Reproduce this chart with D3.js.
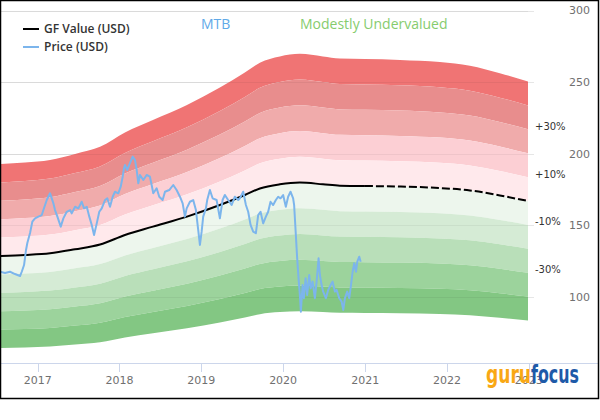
<!DOCTYPE html>
<html>
<head>
<meta charset="utf-8">
<script src="https://cdn.jsdelivr.net/npm/d3@7/dist/d3.min.js"></script>
<style>
  html, body { margin: 0; padding: 0; background: #fff; }
  svg { display: block; }
</style>
</head>
<body>
<svg id="chart" width="600" height="420"></svg>
<script>
// ---------------- DATA ----------------
const ticker = "MTB";
const verdict = "Modestly Undervalued";
const legendLabels = ["GF Value (USD)", "Price (USD)"];

// GF Value (decimal years, USD)
const gfDates  = [2016.553, 2016.846, 2017.151, 2017.457, 2017.762, 2018.067, 2018.409, 2018.825,
                  2019.227, 2019.532, 2019.716, 2019.960, 2020.204, 2020.485, 2020.692, 2020.997,
                  2021.424, 2021.913, 2022.280, 2022.646, 2022.990];
const gfValues = [128.5, 129.2, 130.4, 133.2, 136.5, 143.2, 149.0, 156.0,
                  164.1, 171.1, 175.7, 178.6, 179.8, 178.6, 177.6, 177.4,
                  177.0, 176.0, 174.3, 170.8, 166.9];
const gfEstimateFrom = 2020.997; // dashed (estimated) part starts here

// Price (decimal years, USD)
const priceDates = [
  2016.541, 2016.602, 2016.663, 2016.724, 2016.785, 2016.806, 2016.834, 2016.858, 2016.874, 2016.907,
  2016.935, 2016.968, 2017.009, 2017.050, 2017.078, 2017.111, 2017.151, 2017.172, 2017.192, 2017.212,
  2017.241, 2017.282, 2017.314, 2017.355, 2017.396, 2017.416, 2017.457, 2017.497, 2017.538, 2017.567,
  2017.600, 2017.631, 2017.661, 2017.689, 2017.722, 2017.753, 2017.783, 2017.823, 2017.851, 2017.884,
  2017.917, 2017.945, 2017.985, 2018.015, 2018.039, 2018.055, 2018.067, 2018.095, 2018.128, 2018.161,
  2018.189, 2018.210, 2018.230, 2018.250, 2018.291, 2018.332, 2018.372, 2018.393, 2018.413, 2018.454,
  2018.486, 2018.527, 2018.556, 2018.608, 2018.657, 2018.698, 2018.739, 2018.772, 2018.800, 2018.821,
  2018.861, 2018.901, 2018.934, 2018.962, 2018.983, 2019.004, 2019.023, 2019.056, 2019.072, 2019.105,
  2019.138, 2019.187, 2019.227, 2019.260, 2019.288, 2019.328, 2019.370, 2019.410, 2019.451, 2019.471,
  2019.492, 2019.512, 2019.545, 2019.573, 2019.602, 2019.634, 2019.667, 2019.695, 2019.724, 2019.756,
  2019.789, 2019.817, 2019.846, 2019.878, 2019.911, 2019.939, 2019.968, 2020.000, 2020.033, 2020.061,
  2020.090, 2020.122, 2020.134, 2020.155, 2020.171, 2020.188, 2020.204, 2020.216, 2020.237, 2020.253,
  2020.274, 2020.293, 2020.318, 2020.335, 2020.359, 2020.387, 2020.408, 2020.432, 2020.448, 2020.469,
  2020.488, 2020.521, 2020.549, 2020.579, 2020.603, 2020.631, 2020.652, 2020.684, 2020.713, 2020.733,
  2020.753, 2020.781, 2020.806, 2020.827, 2020.847, 2020.867, 2020.888, 2020.904, 2020.928, 2020.945
];
const priceValues = [
  117.5, 116.6, 117.5, 115.9, 114.5, 117.5, 122.2, 132.7, 137.6, 144.6,
  152.5, 154.8, 156.0, 157.1, 162.0, 167.6, 172.3, 168.8, 165.3, 160.6,
  156.0, 149.0, 154.8, 159.4, 160.6, 158.3, 162.9, 161.8, 166.4, 161.8,
  162.9, 156.0, 150.2, 143.2, 151.3, 159.4, 161.8, 167.6, 168.8, 162.9,
  169.9, 173.4, 172.3, 176.9, 183.9, 189.8, 192.1, 188.6, 193.3, 197.9,
  195.6, 188.6, 179.3, 185.1, 181.6, 185.1, 183.9, 178.1, 172.3, 175.8,
  169.9, 167.6, 173.4, 174.6, 178.1, 174.6, 169.9, 165.3, 156.0, 161.8,
  166.4, 167.6, 160.6, 146.7, 136.2, 145.5, 156.0, 161.8, 167.6, 174.6,
  168.8, 167.6, 154.8, 167.6, 171.1, 167.6, 164.1, 169.9, 167.6, 168.8,
  171.1, 173.4, 164.1, 159.4, 150.2, 145.5, 144.4, 157.1, 159.4, 151.3,
  156.0, 159.4, 166.4, 164.1, 167.6, 169.9, 168.8, 171.1, 162.9, 169.9,
  173.4, 168.8, 164.1, 143.2, 126.9, 112.9, 101.3, 89.6, 108.2, 99.0,
  112.9, 101.3, 115.2, 105.9, 110.6, 99.0, 110.6, 126.9, 115.2, 108.2,
  103.6, 99.0, 104.8, 108.2, 110.6, 103.6, 104.8, 99.0, 96.6, 90.8,
  99.0, 103.6, 99.0, 108.2, 117.5, 123.4, 117.5, 124.5, 128.0, 124.5
];

// valuation bands (multiples of GF Value) and their colours, top to bottom
const bandEdges  = [1.5, 1.4, 1.3, 1.2, 1.1, 1.0, 0.9, 0.8, 0.7, 0.6, 0.5];
const bandColors = ["#f07474", "#e88d8d", "#f0abab", "#fccfd4", "#ffe9ec",
                    "#edf6ed", "#d5ebd5", "#b9dfb9", "#9cd39c", "#83c783"];
const bandLabelMultipliers = [1.3, 1.1, 0.9, 0.7];
const bandLabelTexts = ["+30%", "+10%", "-10%", "-30%"];

const yTicks = [100, 150, 200, 250, 300];
const xTickYears = [2017, 2018, 2019, 2020, 2021, 2022, 2023];

// ---------------- HELPERS ----------------
function yd(y) {
  const yr = Math.floor(y);
  const s = Date.UTC(yr, 0, 1), e = Date.UTC(yr + 1, 0, 1);
  return new Date(s + (y - yr) * (e - s));
}

const gf = gfDates.map((d, i) => ({ date: yd(d), dec: d, v: gfValues[i] }));
const price = priceDates.map((d, i) => ({ date: yd(d), v: priceValues[i] }));

// ---------------- SCALES ----------------
const svg = d3.select("#chart");
const plotLeft = 1, plotRight = 528, plotBottom = 363;

const x = d3.scaleTime()
  .domain([yd(2016.553), yd(2022.990)])
  .range([plotLeft, plotRight]);

const y = d3.scaleLinear()
  .domain([100, 300])
  .range([296.8, 10.5]);

// ---------------- GRID ----------------
const grid = svg.append("g");
grid.selectAll("line").data(yTicks).join("line")
  .attr("x1", 0).attr("x2", 534)
  .attr("y1", d => Math.round(y(d)) + 0.5).attr("y2", d => Math.round(y(d)) + 0.5)
  .attr("stroke", "#e6e6e6").attr("stroke-width", 1);

// ---------------- BANDS ----------------
const bands = svg.append("g");
for (let i = 0; i < bandColors.length; i++) {
  const hi = bandEdges[i], lo = bandEdges[i + 1];
  const area = d3.area()
    .x(d => x(d.date))
    .y0(d => y(d.v * lo))
    .y1(d => y(d.v * hi))
    .curve(d3.curveMonotoneX);
  bands.append("path").datum(gf)
    .attr("d", area)
    .attr("fill", bandColors[i]);
}

// faint gridlines showing through the bands
svg.append("g").selectAll("line").data(yTicks).join("line")
  .attr("x1", 0).attr("x2", plotRight)
  .attr("y1", d => Math.round(y(d)) + 0.5).attr("y2", d => Math.round(y(d)) + 0.5)
  .attr("stroke", "#000").attr("stroke-opacity", 0.05);

// band labels
svg.append("g").selectAll("text").data(bandLabelMultipliers).join("text")
  .attr("x", 535)
  .attr("y", d => y(gfValues[gfValues.length - 1] * d) - 3)
  .attr("dy", "0.35em")
  .attr("font-family", "DejaVu Sans, sans-serif")
  .attr("font-size", 10)
  .attr("fill", "#333")
  .text((d, i) => bandLabelTexts[i]);

// ---------------- GF VALUE LINE ----------------
const gfLine = d3.line().x(d => x(d.date)).y(d => y(d.v)).curve(d3.curveMonotoneX);
svg.append("path").datum(gf.filter(d => d.dec <= gfEstimateFrom))
  .attr("d", gfLine).attr("fill", "none").attr("stroke", "#000").attr("stroke-width", 2);
svg.append("path").datum(gf.filter(d => d.dec >= gfEstimateFrom))
  .attr("d", gfLine).attr("fill", "none").attr("stroke", "#000").attr("stroke-width", 2)
  .attr("stroke-dasharray", "8,3");

// ---------------- PRICE LINE ----------------
const priceLine = d3.line().x(d => x(d.date)).y(d => y(d.v)).curve(d3.curveLinear);
svg.append("path").datum(price)
  .attr("d", priceLine).attr("fill", "none")
  .attr("stroke", "#7cb5ec").attr("stroke-width", 2).attr("stroke-linejoin", "round");

// ---------------- AXES ----------------
// right y labels
svg.append("g").selectAll("text").data(yTicks).join("text")
  .attr("x", 569).attr("y", d => y(d)).attr("dy", "0.35em")
  .attr("font-family", "DejaVu Sans, sans-serif").attr("font-size", 11)
  .attr("fill", "#707070")
  .text(d => d);

// x axis
svg.append("line")
  .attr("x1", 0).attr("x2", 598).attr("y1", plotBottom + 0.5).attr("y2", plotBottom + 0.5)
  .attr("stroke", "#ccd6eb");
const xt = svg.append("g");
xt.selectAll("line").data(xTickYears).join("line")
  .attr("x1", d => Math.round(x(yd(d))) + 0.5).attr("x2", d => Math.round(x(yd(d))) + 0.5)
  .attr("y1", plotBottom).attr("y2", plotBottom + 9)
  .attr("stroke", "#ccd6eb");
xt.selectAll("text").data(xTickYears).join("text")
  .attr("x", d => x(yd(d))).attr("y", 380).attr("dy", "0.35em")
  .attr("text-anchor", "middle")
  .attr("font-family", "DejaVu Sans, sans-serif").attr("font-size", 11)
  .attr("fill", "#707070")
  .text(d => d);

// ---------------- TITLE ----------------
svg.append("text").attr("x", 201).attr("y", 29)
  .attr("font-family", "Open Sans, sans-serif").attr("font-size", 14)
  .attr("fill", "#5fa9e8").text(ticker);
svg.append("text").attr("x", 300).attr("y", 29)
  .attr("font-family", "Open Sans, sans-serif").attr("font-size", 14)
  .attr("fill", "#86cc6e").text(verdict);

// ---------------- LEGEND ----------------
const legendColors = ["#000", "#7cb5ec"];
const lg = svg.append("g");
legendLabels.forEach((t, i) => {
  const cy = 29 + i * 18;
  lg.append("line").attr("x1", 23).attr("x2", 39).attr("y1", cy).attr("y2", cy)
    .attr("stroke", legendColors[i]).attr("stroke-width", 2);
  lg.append("text").attr("x", 44).attr("y", cy).attr("dy", "0.35em")
    .attr("font-family", "Open Sans, sans-serif").attr("font-size", 12)
    .attr("font-weight", 600).attr("fill", "#333").text(t);
});

// ---------------- LOGO ----------------
svg.append("text").attr("x", 486).attr("y", 383)
  .attr("font-family", "DejaVu Sans, sans-serif").attr("font-weight", "bold").attr("font-size", 25)
  .attr("textLength", 45).attr("lengthAdjust", "spacingAndGlyphs")
  .attr("fill", "#f9a814").text("guru");
svg.append("text").attr("x", 531).attr("y", 383)
  .attr("font-family", "DejaVu Sans, sans-serif").attr("font-weight", "bold").attr("font-size", 25)
  .attr("textLength", 48).attr("lengthAdjust", "spacingAndGlyphs")
  .attr("fill", "#1e5aa8").text("focus");

// ---------------- FRAME ----------------
svg.append("rect").attr("x", 0.5).attr("y", 0.5).attr("width", 598).attr("height", 398)
  .attr("fill", "none").attr("stroke", "#000").attr("stroke-width", 1.5);
</script>
</body>
</html>
